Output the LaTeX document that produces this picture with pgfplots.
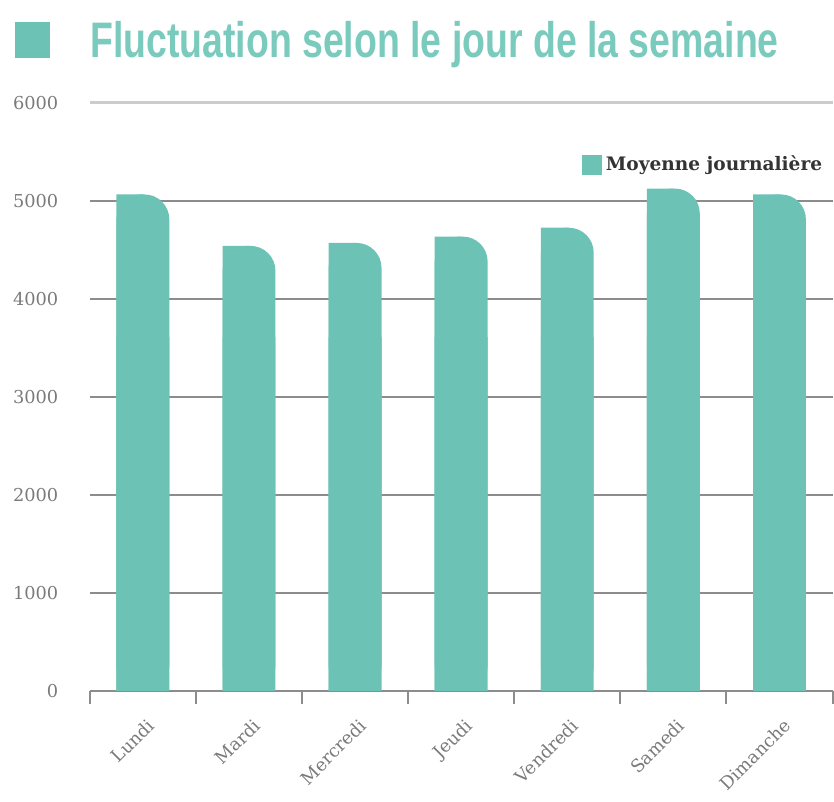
\documentclass[border=0pt]{standalone}
\usepackage{pgfplots}
\usepackage{pgfplotstable}
\pgfplotsset{compat=1.18}
\usepackage{fontspec}
\setmainfont{DejaVu Serif}
\newfontfamily\titlefont[FakeStretch=0.75]{Liberation Sans}
\definecolor{barteal}{HTML}{6CC3B5}
\definecolor{titleteal}{HTML}{7ACBBE}
\definecolor{gridgray}{HTML}{8C8C8C}
\definecolor{labelgray}{HTML}{7A7A7A}

% moyenne journaliere par jour
\pgfplotstableread{
x val
0 5065
1 4540
2 4570
3 4635
4 4725
5 5125
6 5065
}\jours

\begin{document}
\begin{tikzpicture}
\begin{axis}[
    name=ax,
    width=372pt, height=294.5pt, scale only axis,
    xmin=-0.5, xmax=6.5, ymin=0, ymax=6000,
    xtick={0,...,6},
    xticklabels={Lundi,Mardi,Mercredi,Jeudi,Vendredi,Samedi,Dimanche},
    major x tick style={draw=none},
    minor xtick={-0.5,0.5,...,6.5},
    minor tick length=6.5pt,
    tick align=outside,
    xtick style={gridgray, line width=1pt},
    ytick={0,1000,2000,3000,4000,5000},
    yticklabels={0,1000,2000,3000,4000,5000},
    extra y ticks={6000},
    extra y tick labels={6000},
    extra y tick style={grid style={gray!40, line width=1.5pt}},
    ytick style={draw=none},
    ymajorgrids,
    grid style={gridgray, line width=1pt},
    axis lines*=left,
    separate axis lines,
    y axis line style={draw=none},
    x axis line style={gridgray, line width=1pt, -},
    yticklabel style={font=\fontsize{8.9}{10}\selectfont, text=labelgray, xshift=-8pt},
    xticklabel style={font=\fontsize{8.9}{10}\selectfont, text=labelgray, rotate=45, anchor=north east, yshift=-4pt, xshift=-2pt},
    legend style={at={(1,0.924)}, anchor=north east, draw=none, fill=none,
        font=\bfseries\fontsize{9.3}{11}\selectfont, text=black!80},
    legend image code/.code={\fill[barteal, sharp corners] (0pt,-5pt) rectangle (10pt,5pt);},
]
% bar with rounded corners
\addplot[ybar, bar width=26.5pt, bar shift=0pt, fill=barteal, draw=none, rounded corners=12.5pt]
    table[x=x, y=val] {\jours};
\addlegendentry{Moyenne journalière}
% square left half: keeps the top left corner sharp
\addplot[ybar, bar width=13.25pt, bar shift=-6.625pt, fill=barteal, draw=none, forget plot]
    table[x=x, y=val] {\jours};
% square lower part: keeps the bottom corners sharp
\begin{scope}
\clip (rel axis cs:0,0) rectangle (rel axis cs:1,0.6);
\addplot[ybar, bar width=26.5pt, bar shift=0pt, fill=barteal, draw=none, forget plot]
    table[x=x, y=val] {\jours};
\end{scope}
\end{axis}
\path ([xshift=-45pt, yshift=-48.5pt]ax.south west) rectangle ([yshift=51.5pt]ax.north east);
\fill[barteal] ([xshift=-37.5pt, yshift=22.5pt]ax.north west) rectangle ([xshift=-20pt, yshift=40.5pt]ax.north west);
\node[anchor=base west, inner sep=0pt, text=titleteal, font=\titlefont\bfseries\fontsize{25}{25}\selectfont]
    at ([yshift=22.5pt]ax.north west) {Fluctuation selon le jour de la semaine};
\end{tikzpicture}
\end{document}
